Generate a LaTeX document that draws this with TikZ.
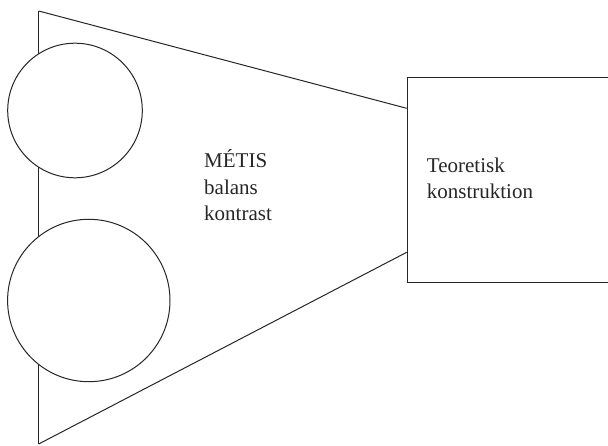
\documentclass[tikz,border=0pt]{standalone}
\usepackage{fontspec}
\setmainfont{Liberation Serif}
\usetikzlibrary{calc}

\begin{document}
\begin{tikzpicture}[x=1pt, y=-1pt,
  line/.style={draw=black!85, line width=1pt},
  disc/.style={line, circle, fill=white, inner sep=0pt},
  txt/.style={font=\fontsize{21}{26.5}\selectfont, align=left,
              inner sep=0pt, anchor=base west, text=black!85},
]
\useasboundingbox (0,0) rectangle (608,446);
\clip (0,0) rectangle (608,446);

% --- apex points on the left ---
\coordinate (apextop) at (38.7,11);
\coordinate (apexbot) at (38.7,444);

% --- box on the right ---
\node[line, rectangle, minimum width=204pt, minimum height=205pt,
      anchor=north west] (konstr) at (406.7,77.3) {};

% --- funnel ---
\draw[line] (apextop) -- (apexbot);
\draw[line] (apextop) -- ($(konstr.north west)+(0,31)$);
\draw[line] (apexbot) -- ($(konstr.north west)+(0,175)$);

% --- circles on the left edge ---
\node[disc, minimum size=134.6pt] (upper) at (75,110.5) {};
\node[disc, minimum size=162.4pt] (lower) at (88.8,300.5) {};

% --- texts (base = last line) ---
\node[txt] (metis) at (204,221) {MÉTIS\\balans\\kontrast};
\node[txt] (konstrtxt) at (426.7,199) {Teoretisk\\konstruktion};

\end{tikzpicture}
\end{document}
